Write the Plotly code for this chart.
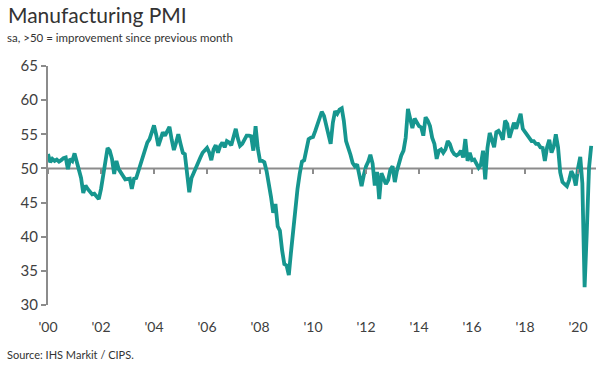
import plotly.graph_objects as go
import pandas as pd

# Monthly UK manufacturing PMI, Jan 2000 .. Jul 2020
pmi_2000 = [52.1, 50.9, 51.4, 51.1, 51.3, 51.0, 51.2, 51.5, 51.6, 49.9, 51.4, 51.1]
pmi_2001 = [52.2, 51.0, 50.1, 48.6, 46.4, 47.5, 47.0, 46.6, 46.2, 46.3, 45.9, 45.5]
pmi_2002 = [47.0, 48.9, 50.8, 53.0, 52.6, 51.4, 49.2, 51.1, 49.9, 49.5, 48.9, 48.4]
pmi_2003 = [48.4, 48.5, 47.0, 48.5, 48.6, 49.6, 50.9, 52.0, 53.0, 53.8, 54.3, 55.3]
pmi_2004 = [56.3, 54.9, 53.3, 54.3, 55.3, 54.8, 55.6, 56.1, 54.2, 52.7, 53.8, 55.0]
pmi_2005 = [53.6, 52.3, 52.1, 49.5, 46.5, 48.6, 49.4, 50.2, 51.1, 51.6, 52.3, 52.6]
pmi_2006 = [53.0, 52.3, 51.2, 52.8, 53.4, 52.3, 53.3, 53.8, 53.1, 54.0, 53.8, 53.4]
pmi_2007 = [54.5, 55.8, 54.4, 53.3, 53.6, 54.2, 54.8, 54.8, 54.7, 52.6, 56.2, 53.0]
pmi_2008 = [51.1, 51.1, 50.9, 49.6, 48.0, 45.8, 43.5, 44.8, 41.5, 40.9, 38.0, 36.0]
pmi_2009 = [35.8, 34.4, 37.5, 40.6, 44.5, 47.0, 49.2, 51.0, 51.2, 52.8, 54.3, 54.5]
pmi_2010 = [54.6, 55.5, 56.5, 57.2, 58.3, 57.7, 56.5, 54.8, 53.6, 56.7, 58.4, 58.0]
pmi_2011 = [58.6, 58.8, 57.0, 54.0, 53.1, 52.0, 50.8, 50.3, 50.6, 49.0, 47.4, 49.0]
pmi_2012 = [50.3, 51.0, 52.0, 50.7, 47.5, 49.5, 45.5, 49.3, 48.3, 47.7, 48.3, 49.8]
pmi_2013 = [50.3, 48.0, 49.6, 50.9, 51.9, 52.6, 54.5, 58.7, 57.4, 55.9, 57.3, 56.7]
pmi_2014 = [56.2, 56.0, 54.8, 57.5, 57.0, 56.2, 54.5, 53.6, 51.4, 52.6, 52.8, 52.3]
pmi_2015 = [52.8, 54.0, 53.6, 52.6, 52.1, 51.9, 52.1, 52.6, 51.6, 54.3, 51.1, 52.3]
pmi_2016 = [51.2, 51.3, 50.6, 50.1, 50.5, 52.6, 48.4, 53.0, 55.2, 53.9, 53.1, 55.3]
pmi_2017 = [55.5, 55.0, 54.2, 57.0, 56.5, 54.5, 55.5, 56.7, 55.8, 56.8, 58.0, 55.8]
pmi_2018 = [55.3, 55.0, 54.5, 54.0, 54.0, 53.6, 53.6, 53.1, 53.0, 51.1, 53.1, 54.2]
pmi_2019 = [52.3, 53.2, 55.0, 53.1, 49.4, 48.0, 47.7, 47.4, 48.3, 49.6, 48.9, 47.5]
pmi_2020 = [50.0, 51.7, 47.8, 32.6, 40.7, 50.1, 53.3]

pmi = (pmi_2000 + pmi_2001 + pmi_2002 + pmi_2003 + pmi_2004 + pmi_2005 + pmi_2006
       + pmi_2007 + pmi_2008 + pmi_2009 + pmi_2010 + pmi_2011 + pmi_2012 + pmi_2013
       + pmi_2014 + pmi_2015 + pmi_2016 + pmi_2017 + pmi_2018 + pmi_2019 + pmi_2020)
months = pd.date_range("2000-01-01", periods=len(pmi), freq="MS")

y_ticks = [30, 35, 40, 45, 50, 55, 60, 65]
x_tick_years = list(range(2000, 2021, 2))
x_ticks = [pd.Timestamp(f"{y}-01-01") for y in x_tick_years]
x_labels = ["'" + str(y)[2:] for y in x_tick_years]

X_RANGE = ["2000-01-01", "2020-09-05"]
Y_RANGE = [30, 65]
FONT = "Lato, 'Open Sans', sans-serif"
AXIS_GRAY = "#8c8c8c"
TEXT = "#333333"
TEAL = "#16968f"

fig = go.Figure()
fig.add_trace(go.Scatter(x=months, y=pmi, mode="lines",
                         line=dict(color=TEAL, width=3.8), hoverinfo="skip",
                         showlegend=False))
# invisible companion trace for the tick-mark axis at the 50 line
fig.add_trace(go.Scatter(x=months, y=pmi, mode="lines", xaxis="x2",
                         line=dict(color="rgba(0,0,0,0)", width=0),
                         hoverinfo="skip", showlegend=False))

pos50 = (50 - Y_RANGE[0]) / (Y_RANGE[1] - Y_RANGE[0])

fig.update_layout(
    width=600, height=370,
    margin=dict(l=48, r=4, t=66, b=65, autoexpand=False),
    paper_bgcolor="white", plot_bgcolor="white",
    font=dict(family=FONT, color=TEXT),
    xaxis=dict(type="date", range=X_RANGE, tickvals=x_ticks, ticktext=x_labels,
               ticks="outside", ticklen=9, tickcolor="rgba(0,0,0,0)",
               showline=False, showgrid=False, zeroline=False, automargin=False,
               tickfont=dict(size=14, color="#404040", family=FONT)),
    xaxis2=dict(type="date", range=X_RANGE, overlaying="x", anchor="free",
                position=pos50, tickvals=x_ticks, showticklabels=False,
                ticks="outside", ticklen=5, tickwidth=2, tickcolor=AXIS_GRAY,
                showline=False, showgrid=False, zeroline=False),
    yaxis=dict(range=Y_RANGE, tickvals=y_ticks, ticks="outside", ticklen=5,
               tickwidth=1.5, tickcolor=AXIS_GRAY, showline=True,
               linecolor=AXIS_GRAY, linewidth=2, showgrid=False, zeroline=False,
               automargin=False,
               tickfont=dict(size=15, color="#404040", family=FONT)),
    shapes=[dict(type="line", xref="paper", x0=0, x1=1, yref="y", y0=50, y1=50,
                 line=dict(color=AXIS_GRAY, width=2), layer="below")],
    annotations=[
        dict(text="Manufacturing PMI", xref="paper", yref="paper",
             x=-42/548, y=1 + 52/239, xanchor="left", yanchor="middle",
             showarrow=False, font=dict(size=21, color=TEXT, family=FONT)),
        dict(text="sa, >50 = improvement since previous month", xref="paper",
             yref="paper", x=-43/548, y=1 + 28/239, xanchor="left",
             yanchor="middle", showarrow=False,
             font=dict(size=11.5, color=TEXT, family=FONT)),
        dict(text="Source: IHS Markit / CIPS.", xref="paper", yref="paper",
             x=-43/548, y=-49/239, xanchor="left", yanchor="middle",
             showarrow=False, font=dict(size=11, color=TEXT, family=FONT)),
    ],
)

fig.write_html("out.html", config={"displayModeBar": False},
               post_script="document.body.style.margin='0';"
                           "document.body.style.overflow='hidden';")
